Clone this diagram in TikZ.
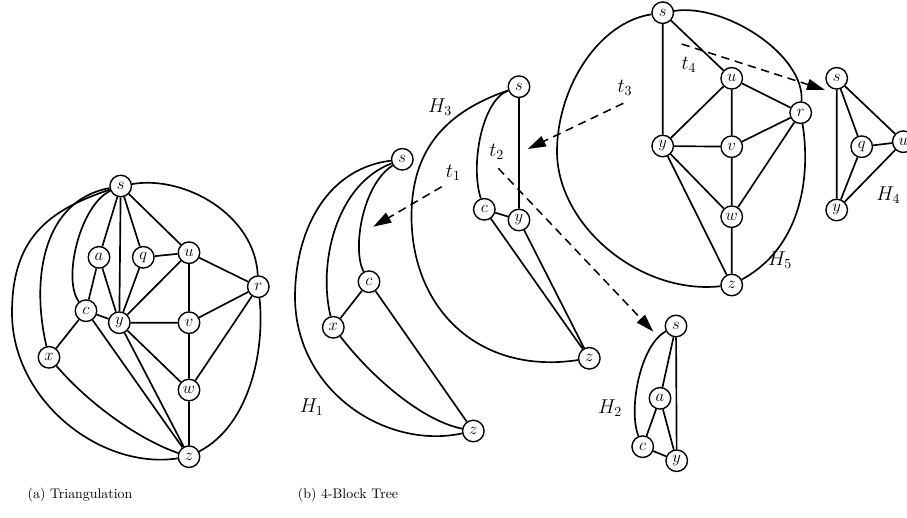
\documentclass[tikz,border=0pt]{standalone}
\usetikzlibrary{arrows.meta}
\begin{document}
\begin{tikzpicture}[x=0.72pt,y=-0.72pt,
  vtx/.style={circle,draw,fill=white,inner sep=0pt,minimum size=15.5pt,line width=1pt,font=\large},
  edge/.style={line width=1.2pt},
  tarrow/.style={line width=1.1pt,dash pattern=on 6pt off 4pt,-{Triangle[length=13pt,width=8pt]}},
  lbl/.style={font=\Large}]
\useasboundingbox (0,0) rectangle (907,517);

% ---------- (a) Triangulation ----------
\node[vtx] (As) at (120.7,186) {$s$};
\node[vtx] (Aa) at (99,257.3) {$a$};
\node[vtx] (Aq) at (143.3,257.3) {$q$};
\node[vtx] (Au) at (189,252.7) {$u$};
\node[vtx] (Ar) at (258.3,286.7) {$r$};
\node[vtx] (Ac) at (86,310.7) {$c$};
\node[vtx] (Ay) at (119.3,322.7) {$y$};
\node[vtx] (Av) at (189,322.7) {$v$};
\node[vtx] (Ax) at (49,357.3) {$x$};
\node[vtx] (Aw) at (189,390) {$w$};
\node[vtx] (Az) at (189,456.7) {$z$};
\begin{scope}[edge]
\draw (As)--(Aa) (As)--(Ay) (As)--(Aq) (As)--(Au);
\draw (Aa)--(Ac) (Aa)--(Ay) (Aq)--(Ay) (Aq)--(Au) (Au)--(Ay) (Au)--(Av) (Au)--(Ar);
\draw (Ac)--(Ay) (Ac)--(Ax) (Ac)--(Az) (Ay)--(Av) (Ay)--(Aw) (Ay)--(Az);
\draw (Av)--(Ar) (Av)--(Aw) (Aw)--(Ar) (Aw)--(Az);
\draw (As) .. controls (80,205) and (62,280) .. (Ac);
\draw (As) .. controls (45,200) and (30,275) .. (Ax);
\draw (As) .. controls (45.7,211) and (12,240) .. (12,313) .. controls (12,400) and (100,470) .. (Az);
\draw (As) .. controls (185,175) and (255,215) .. (Ar);
\draw (Ar) .. controls (265,350) and (250,425) .. (Az);
\draw (Ax) .. controls (90,405) and (140,440) .. (Az);
\end{scope}

% ---------- H1 ----------
\node[vtx] (Bs) at (402.3,159.3) {$s$};
\node[vtx] (Bc) at (369,281.7) {$c$};
\node[vtx] (Bx) at (333.3,327.3) {$x$};
\node[vtx] (Bz) at (473.3,431) {$z$};
\begin{scope}[edge]
\draw (Bc)--(Bx) (Bc)--(Bz);
\draw (Bs) .. controls (362,185) and (352,250) .. (Bc);
\draw (Bs) .. controls (335,185) and (318,265) .. (Bx);
\draw (Bs) .. controls (330,168) and (296,225) .. (295,295) .. controls (294,390) and (385,450) .. (Bz);
\draw (Bx) .. controls (370,375) and (420,420) .. (Bz);
\end{scope}
\node[lbl] (H1) at (311.7,406.7) {$H_1$};

% ---------- H3 ----------
\node[vtx] (Cs) at (519,86.7) {$s$};
\node[vtx] (Cc) at (484.3,209.3) {$c$};
\node[vtx] (Cy) at (519,220) {$y$};
\node[vtx] (Cz) at (589.3,358.3) {$z$};
\begin{scope}[edge]
\draw (Cs)--(Cy) (Cc)--(Cy) (Cc)--(Cz) (Cy)--(Cz);
\draw (Cs) .. controls (482,100) and (470,165) .. (Cc);
\draw (Cs) .. controls (445,112) and (412,150) .. (411.5,215) .. controls (411,310) and (480,375) .. (Cz);
\end{scope}
\node[lbl] (H3) at (440,106.7) {$H_3$};

% ---------- H5 ----------
\node[vtx] (Ds) at (662.7,12.7) {$s$};
\node[vtx] (Du) at (731.7,78.3) {$u$};
\node[vtx] (Dr) at (800.7,112.7) {$r$};
\node[vtx] (Dy) at (662.7,146) {$y$};
\node[vtx] (Dv) at (731.7,146.7) {$v$};
\node[vtx] (Dw) at (731.7,216.7) {$w$};
\node[vtx] (Dz) at (731.7,285) {$z$};
\begin{scope}[edge]
\draw (Ds)--(Dy) (Ds)--(Du) (Du)--(Dy) (Du)--(Dv) (Du)--(Dr);
\draw (Dy)--(Dv) (Dv)--(Dr) (Dv)--(Dw) (Dy)--(Dw) (Dy)--(Dz) (Dw)--(Dz) (Dw)--(Dr);
\draw (Ds) .. controls (725,3) and (805,55) .. (Dr);
\draw (Dr) .. controls (810,170) and (805,245) .. (Dz);
\draw (Ds) .. controls (600,22) and (558,85) .. (557,150) .. controls (556,225) and (640,295) .. (Dz);
\end{scope}
\node[lbl] (H5) at (780,260) {$H_5$};

% ---------- H4 ----------
\node[vtx] (Es) at (836.7,78.3) {$s$};
\node[vtx] (Eq) at (861.7,146.7) {$q$};
\node[vtx] (Eu) at (903.3,141.7) {$u$};
\node[vtx] (Ey) at (836.7,210) {$y$};
\begin{scope}[edge]
\draw (Es)--(Ey) (Es)--(Eq) (Es)--(Eu) (Eq)--(Eu) (Eq)--(Ey) (Ey)--(Eu);
\end{scope}
\node[lbl] (H4) at (888.3,195) {$H_4$};

% ---------- H2 ----------
\node[vtx] (Fs) at (676,326) {$s$};
\node[vtx] (Fa) at (660,398.3) {$a$};
\node[vtx] (Fc) at (642.7,446.7) {$c$};
\node[vtx] (Fy) at (676.7,460.7) {$y$};
\begin{scope}[edge]
\draw (Fs)--(Fa) (Fs)--(Fy) (Fa)--(Fc) (Fa)--(Fy) (Fc)--(Fy);
\draw (Fs) .. controls (640,345) and (628,410) .. (Fc);
\end{scope}
\node[lbl] (H2) at (610,408.3) {$H_2$};

% ---------- tree arrows ----------
\coordinate (t1a) at (441.7,186.7);
\coordinate (t1b) at (373.3,226.7);
\coordinate (t2a) at (498.3,168.3);
\coordinate (t2b) at (653.3,331.7);
\coordinate (t3a) at (623.3,103.3);
\coordinate (t3b) at (527.7,149);
\coordinate (t4a) at (681.7,44);
\coordinate (t4b) at (825,90);
\draw[tarrow] (t1a) -- (t1b);
\draw[tarrow] (t2a) -- (t2b);
\draw[tarrow] (t3a) -- (t3b);
\draw[tarrow] (t4a) -- (t4b);
\node[lbl] (t1) at (453.3,172.5) {$t_1$};
\node[lbl] (t2) at (496.7,151.7) {$t_2$};
\node[lbl] (t3) at (625,88.3) {$t_3$};
\node[lbl] (t4) at (689,65) {$t_4$};

% ---------- captions ----------
\node (capa) at (80,495) {(a) Triangulation};
\node (capb) at (348,495) {(b) 4-Block Tree};
\end{tikzpicture}
\end{document}
